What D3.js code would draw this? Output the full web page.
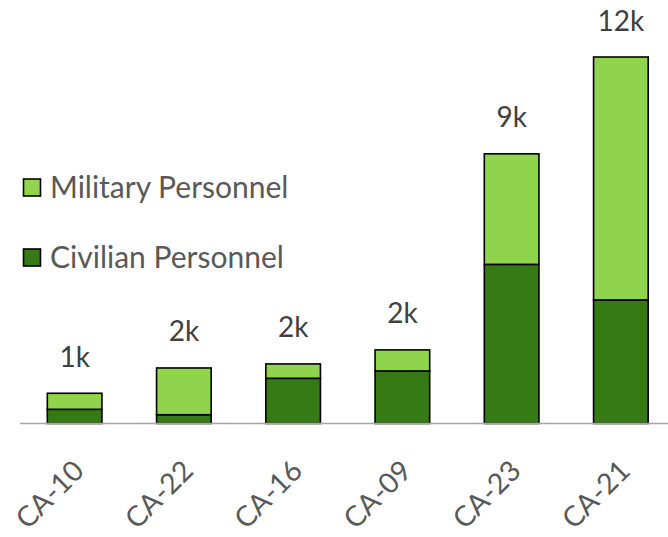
<!DOCTYPE html>
<html lang="en">
<head>
  <meta charset="utf-8">
  <title>Personnel by district</title>
  <script src="https://d3js.org/d3.v7.min.js"></script>
  <style>
    body { margin: 0; background: #fff; }
    svg text { font-family: Lato, "Open Sans", sans-serif; font-size: 28px; }
    .bar { stroke: #000; stroke-width: 1.6; }
    .axis path { stroke: #a6a6a6; stroke-width: 1.6; }
    .axis text { fill: #595959; font-size: 28.5px; }
    .total { fill: #404040; }
    .legend text { fill: #595959; font-size: 30px; }
  </style>
</head>
<body>
<svg width="668" height="537"></svg>
<script>

var categories = ["CA-10", "CA-22", "CA-16", "CA-09", "CA-23", "CA-21"];
var civilian   = [465, 288, 1480, 1720, 5210, 4045];
var military   = [525, 1530, 470, 690, 3620, 7955];
var seriesNames = ["Civilian Personnel", "Military Personnel"];
var colors = ["#357a14", "#8fd44c"];

var svg = d3.select("svg"),
    baseline = 423.5;

var data = categories.map(function(c, i) {
  return {cat: c, civ: civilian[i], mil: military[i]};
});

var x = d3.scaleBand()
    .domain(categories)
    .range([20, 675.5])
    .paddingInner(0.5)
    .paddingOuter(0.25);

var y = d3.scaleLinear()
    .domain([0, 12000])
    .range([baseline, 57]);

var stack = d3.stack().keys(["civ", "mil"]);
var layers = stack(data);

svg.selectAll("g.layer")
    .data(layers)
  .enter().append("g")
    .attr("class", "layer")
    .attr("fill", function(d, i) { return colors[i]; })
  .selectAll("rect")
    .data(function(d) { return d; })
  .enter().append("rect")
    .attr("class", "bar")
    .attr("x", function(d) { return x(d.data.cat); })
    .attr("width", x.bandwidth())
    .attr("y", function(d) { return y(d[1]); })
    .attr("height", function(d) { return y(d[0]) - y(d[1]); });

// totals above bars
svg.selectAll("text.total")
    .data(data)
  .enter().append("text")
    .attr("class", "total")
    .attr("text-anchor", "middle")
    .attr("x", function(d) { return x(d.cat) + x.bandwidth() / 2; })
    .attr("y", function(d) { return y(d.civ + d.mil) - 26.5; })
    .text(function(d) { return Math.round((d.civ + d.mil) / 1000) + "k"; });

// x axis
var axis = svg.append("g")
    .attr("class", "axis")
    .attr("transform", "translate(0," + baseline + ")")
    .call(d3.axisBottom(x).tickSize(0).tickSizeOuter(0));

axis.select(".domain").attr("d", "M20,0H668");

axis.selectAll(".tick text")
    .attr("text-anchor", "end")
    .attr("dy", null)
    .attr("y", 0)
    .attr("transform", "translate(11,49) rotate(-45)");

// legend
var legend = svg.append("g").attr("class", "legend");
var items = [1, 0];
items.forEach(function(k, i) {
  var g = legend.append("g").attr("transform", "translate(0," + (i * 70) + ")");
  g.append("rect")
      .attr("x", 23.5).attr("y", 179)
      .attr("width", 17).attr("height", 17)
      .attr("fill", colors[k])
      .attr("stroke", "#000")
      .attr("stroke-width", 1.6);
  g.append("text")
      .attr("x", 50).attr("y", 197.5)
      .text(seriesNames[k]);
});

</script>
</body>
</html>
